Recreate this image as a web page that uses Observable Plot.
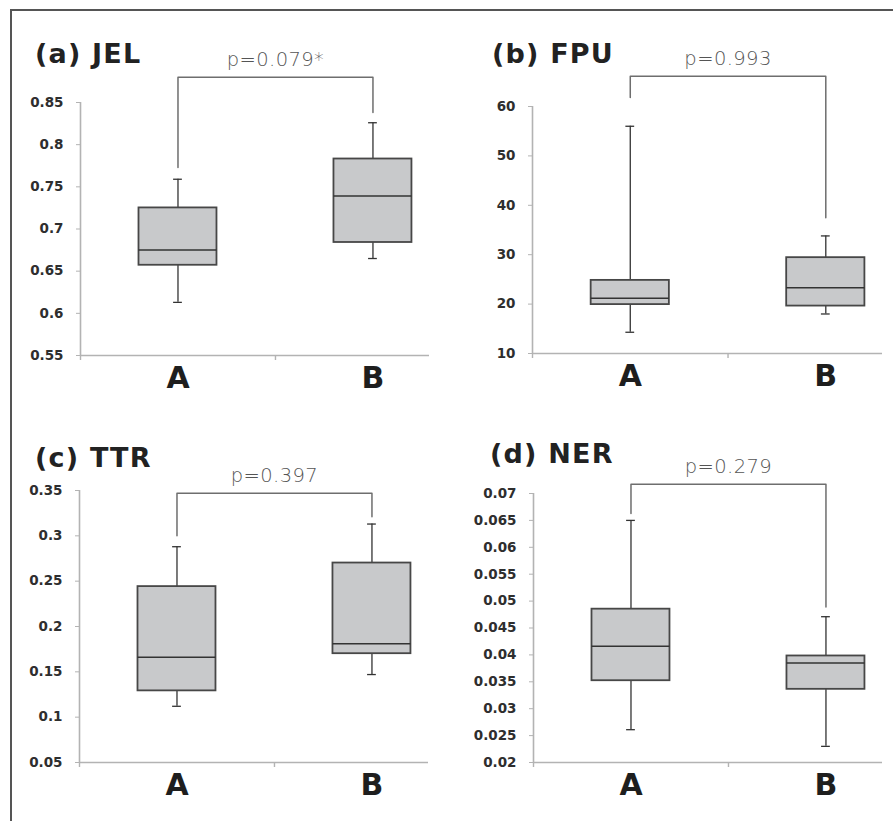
<!DOCTYPE html>
<html>
<head>
<meta charset="utf-8">
<script src="https://cdn.jsdelivr.net/npm/d3@7"></script>
<script src="https://cdn.jsdelivr.net/npm/@observablehq/plot@0.6"></script>
<style>
  html, body { margin: 0; padding: 0; background: #fff; }
  #root { position: relative; width: 893px; height: 821px; overflow: hidden; background: #fff; }
  .frame { position: absolute; left: 10px; top: 9px; width: 900px; height: 830px;
           border-top: 2px solid #555; border-left: 2px solid #555; box-sizing: border-box; }
  .title { position: absolute; font-family: "DejaVu Sans", sans-serif; font-weight: bold;
           font-size: 27px; line-height: 27px; letter-spacing: 1.2px; color: #222; white-space: pre; }
  .panel { position: absolute; }
</style>
</head>
<body>
<div id="root"><div class="frame"></div></div>
<script>
// ---- data ----
const categories = ["A", "B"];
const titles = ["(a) JEL", "(b) FPU", "(c) TTR", "(d) NER"];
const pValues = ["p=0.079*", "p=0.993", "p=0.397", "p=0.279"];

// five-number summaries per category: [min, q1, median, q3, max]
const jelA = [0.613, 0.657, 0.675, 0.725, 0.759];
const jelB = [0.665, 0.684, 0.739, 0.783, 0.826];
const fpuA = [14.3, 19.9, 21.2, 24.8, 56.0];
const fpuB = [18.0, 19.6, 23.3, 29.4, 33.8];
const ttrA = [0.112, 0.129, 0.166, 0.244, 0.288];
const ttrB = [0.147, 0.170, 0.181, 0.270, 0.313];
const nerA = [0.0261, 0.0352, 0.0416, 0.0485, 0.065];
const nerB = [0.0230, 0.0336, 0.0385, 0.0398, 0.0471];

// significance brackets: [left leg end, top, right leg end]
const jelBracket = [0.773, 0.880, 0.838];
const fpuBracket = [61.8, 66.1, 37.5];
const ttrBracket = [0.300, 0.347, 0.321];
const nerBracket = [0.0663, 0.0717, 0.0489];

// y-axis tick labels
const jelTicks = [0.55, 0.6, 0.65, 0.7, 0.75, 0.8, 0.85];
const fpuTicks = [10, 20, 30, 40, 50, 60];
const ttrTicks = [0.05, 0.1, 0.15, 0.2, 0.25, 0.3, 0.35];
const nerTicks = [0.02, 0.025, 0.03, 0.035, 0.04, 0.045, 0.05, 0.055, 0.06, 0.065, 0.07];

// ---- layout ----
const layouts = [
  {left: 0,   top: 40,  width: 445, height: 370, m: [62, 16, 55, 80], tl: 35,  tt: 40},
  {left: 445, top: 40,  width: 448, height: 370, m: [66, 11, 57, 87], tl: 492, tt: 40},
  {left: 0,   top: 440, width: 445, height: 381, m: [50, 17, 59, 79], tl: 35,  tt: 444},
  {left: 445, top: 440, width: 448, height: 381, m: [53, 11, 59, 88], tl: 490, tt: 440}
];
const panels = [
  {stats: [jelA, jelB], bracket: jelBracket, ticks: jelTicks},
  {stats: [fpuA, fpuB], bracket: fpuBracket, ticks: fpuTicks},
  {stats: [ttrA, ttrB], bracket: ttrBracket, ticks: ttrTicks},
  {stats: [nerA, nerB], bracket: nerBracket, ticks: nerTicks}
];

const root = document.getElementById("root");
const BOX_W = 0.4, CAP_W = 0.045;
const axisGray = "#b3b3b3";

panels.forEach((p, k) => {
  const L = layouts[k];
  const rows = categories.map((c, i) => ({
    cat: c, pos: i + 1,
    min: p.stats[i][0], q1: p.stats[i][1], med: p.stats[i][2], q3: p.stats[i][3], max: p.stats[i][4]
  }));
  const ymin = p.ticks[0], ymax = p.ticks[p.ticks.length - 1];
  const boundaries = categories.map((c, i) => i + 0.5);
  const bracketPts = [
    {x: 1, y: p.bracket[0]}, {x: 1, y: p.bracket[1]},
    {x: categories.length, y: p.bracket[1]}, {x: categories.length, y: p.bracket[2]}
  ];
  const mid = (1 + categories.length) / 2;

  const chart = Plot.plot({
    width: L.width, height: L.height,
    marginTop: L.m[0], marginRight: L.m[1], marginBottom: L.m[2], marginLeft: L.m[3],
    x: {domain: [0.5, 2.29], axis: null},
    y: {domain: [ymin, ymax], axis: null},
    style: {background: "transparent", overflow: "visible"},
    marks: [
      Plot.ruleX([0.5], {y1: ymin, y2: ymax, stroke: axisGray, strokeWidth: 1.6}),
      Plot.ruleY([ymin], {stroke: axisGray, strokeWidth: 1.6}),
      Plot.ruleX(boundaries, {y1: ymin, y2: ymin, insetBottom: -5, stroke: axisGray, strokeWidth: 1.4}),
      Plot.axisY({ticks: p.ticks, tickSize: 4, tickPadding: 13, tickFormat: d => String(d),
                  stroke: axisGray, fill: "#2e2e2e", fontSize: 13.5, fontWeight: "bold",
                  fontFamily: "DejaVu Sans"}),
      Plot.axisX({ticks: rows.map(d => d.pos), tickFormat: i => categories[i - 1], tickSize: 0,
                  tickPadding: 11, fontSize: 30, fontWeight: "bold", fill: "#1e1e1e",
                  fontFamily: "DejaVu Sans"}),
      Plot.ruleX(rows, {x: "pos", y1: "q3", y2: "max", stroke: "#333", strokeWidth: 1.3}),
      Plot.ruleX(rows, {x: "pos", y1: "min", y2: "q1", stroke: "#333", strokeWidth: 1.3}),
      Plot.ruleY(rows, {y: "max", x1: d => d.pos - CAP_W / 2, x2: d => d.pos + CAP_W / 2, stroke: "#333", strokeWidth: 1.3}),
      Plot.ruleY(rows, {y: "min", x1: d => d.pos - CAP_W / 2, x2: d => d.pos + CAP_W / 2, stroke: "#333", strokeWidth: 1.3}),
      Plot.rect(rows, {x1: d => d.pos - BOX_W / 2, x2: d => d.pos + BOX_W / 2, y1: "q1", y2: "q3",
                       fill: "#c8c9cb", stroke: "#474747", strokeWidth: 1.8}),
      Plot.ruleY(rows, {y: "med", x1: d => d.pos - BOX_W / 2, x2: d => d.pos + BOX_W / 2,
                        stroke: "#333", strokeWidth: 1.5}),
      Plot.line(bracketPts, {x: "x", y: "y", stroke: "#6e6e6e", strokeWidth: 1.5}),
      Plot.text([{x: mid, y: p.bracket[1], t: pValues[k]}], {x: "x", y: "y", text: "t", dy: -11,
                 lineAnchor: "bottom", fontSize: 19.5, fill: "#555", fontFamily: "DejaVu Sans",
                 fontWeight: 300, className: "pval"})
    ]
  });
  chart.classList.add("panel");
  chart.style.left = L.left + "px";
  chart.style.top = L.top + "px";
  d3.select(chart).selectAll(".pval text").attr("letter-spacing", "0.4px");
  root.appendChild(chart);

  const t = document.createElement("div");
  t.className = "title";
  t.textContent = titles[k];
  t.style.left = L.tl + "px";
  t.style.top = L.tt + "px";
  root.appendChild(t);
});
</script>
</body>
</html>
